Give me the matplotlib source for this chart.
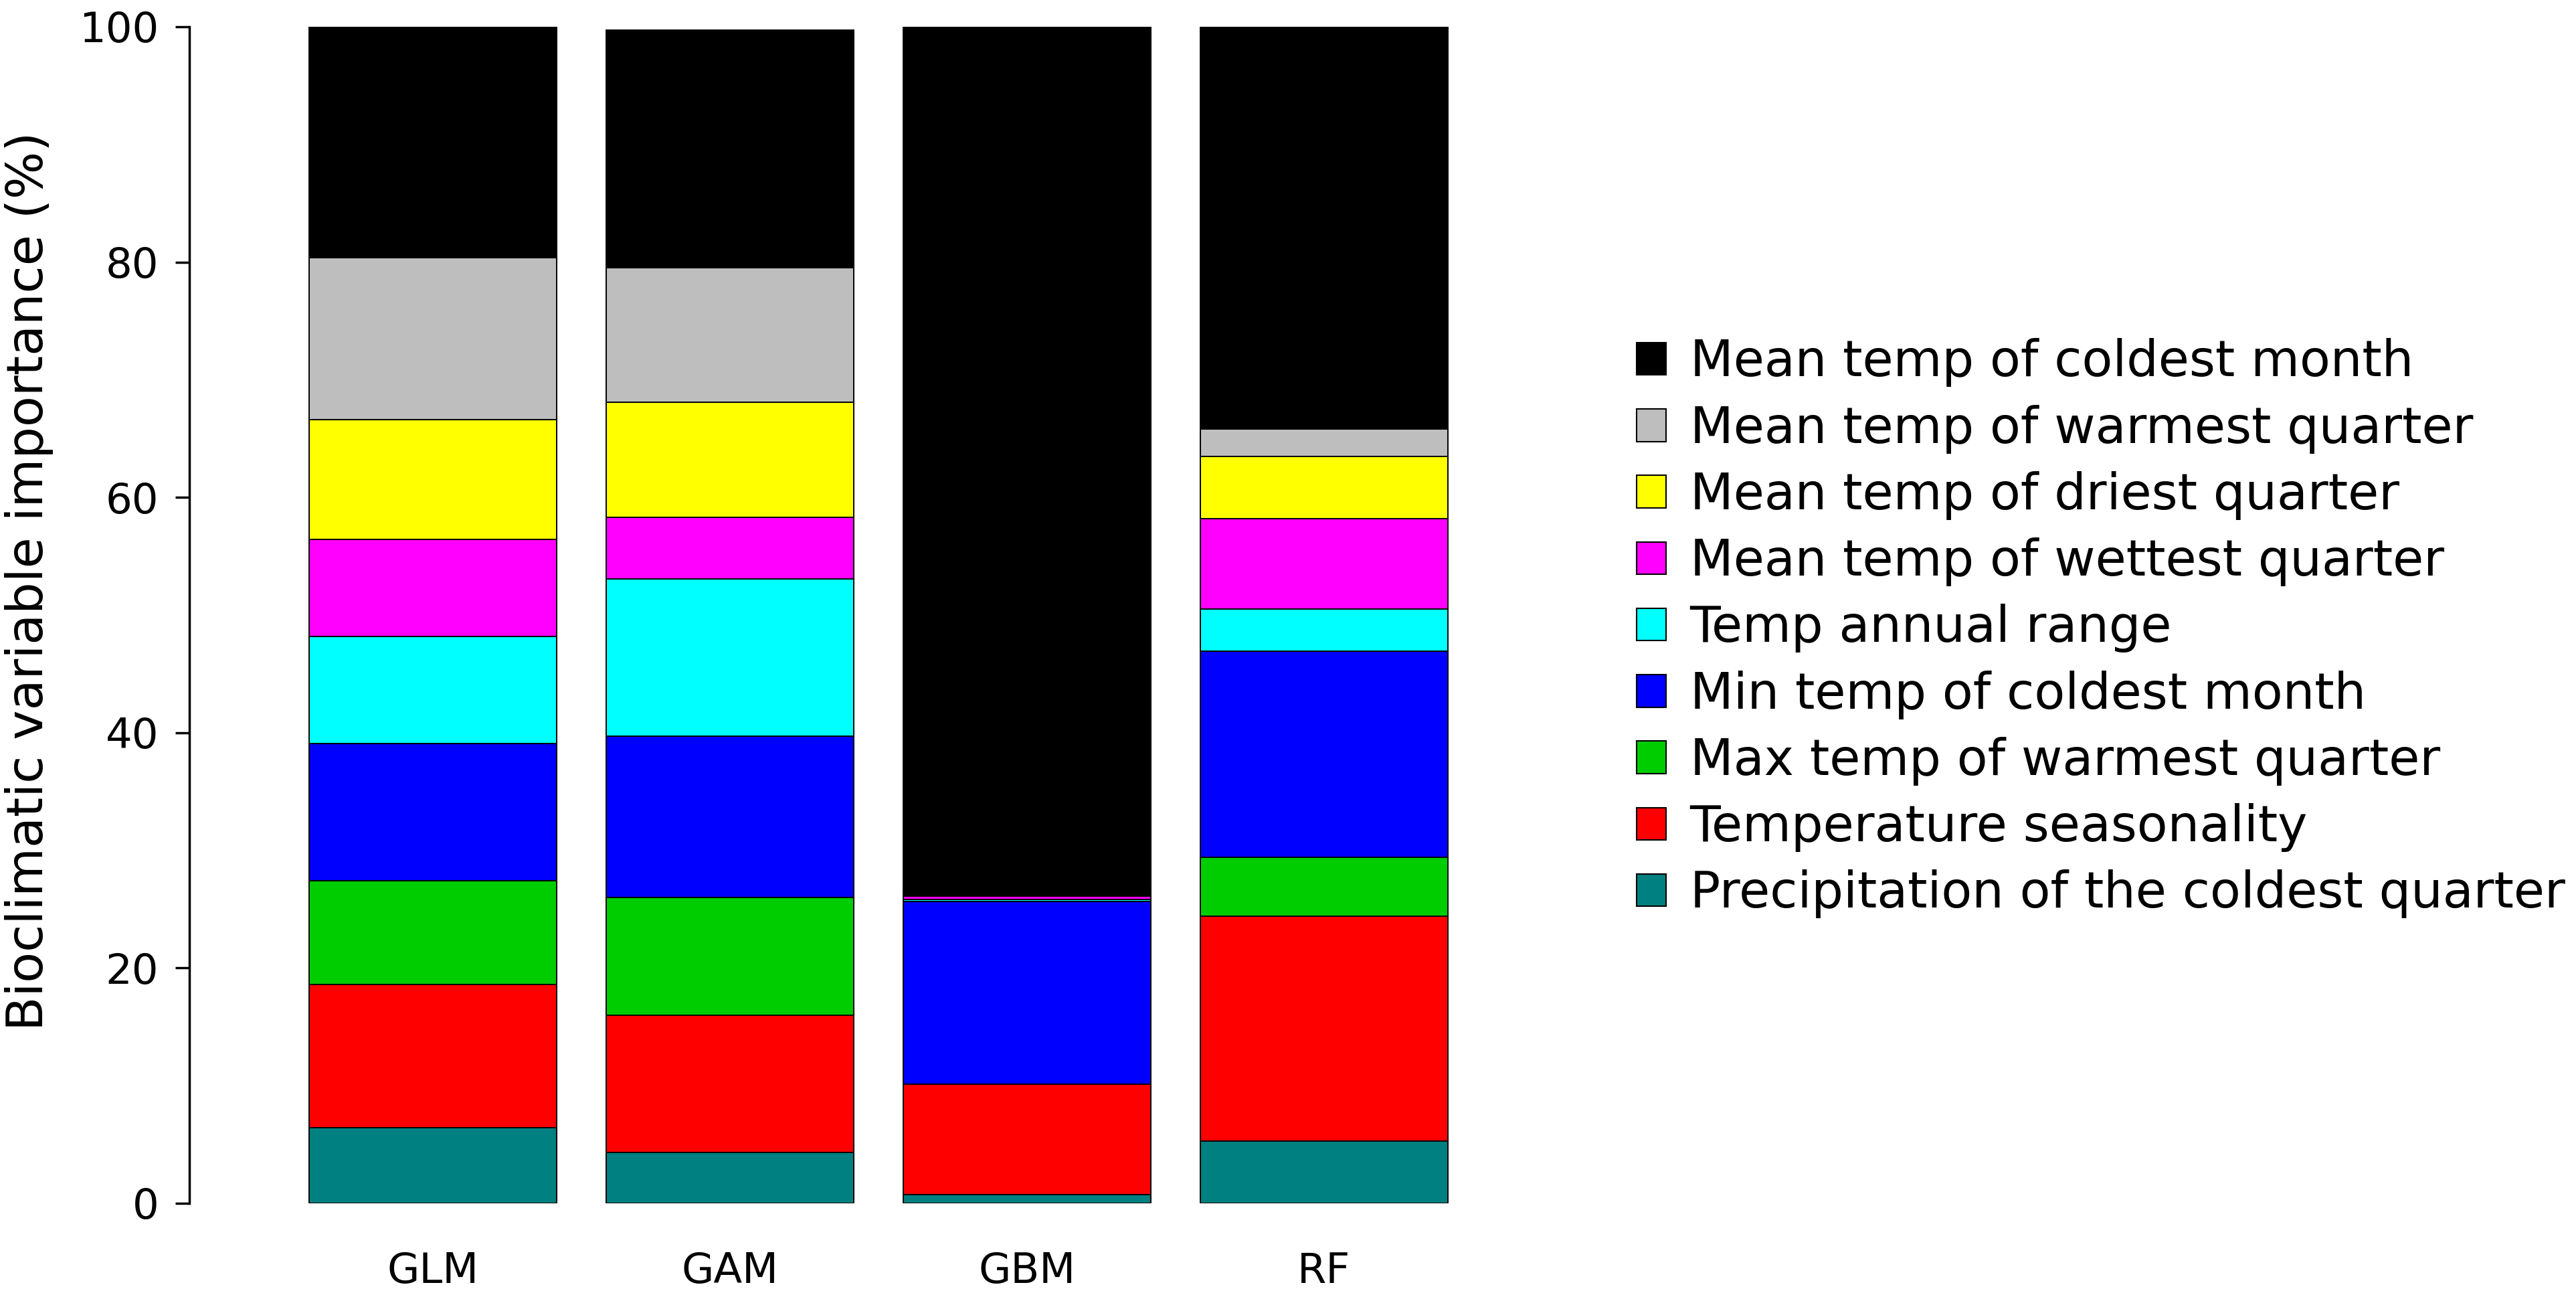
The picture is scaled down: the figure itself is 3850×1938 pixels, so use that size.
import numpy as np
import matplotlib
matplotlib.use("Agg")
import matplotlib.pyplot as plt
from matplotlib.patches import Patch

plt.rcParams['font.family'] = ['DejaVu Sans']

# modeles (axe x)
models = ["GLM", "GAM", "GBM", "RF"]

# importance de chaque variable (%), ordre d'empilement du bas vers le haut
precip_coldest_q = [6.4, 4.3, 0.75, 5.3]
temp_seasonality = [12.2, 11.7, 9.4, 19.1]
max_temp_warmest_q = [8.8, 10.0, 0.0, 5.0]
min_temp_coldest_m = [11.7, 13.7, 15.5, 17.5]
temp_annual_range = [9.1, 13.4, 0.2, 3.6]
mean_temp_wettest_q = [8.2, 5.2, 0.25, 7.7]
mean_temp_driest_q = [10.2, 9.8, 0.1, 5.3]
mean_temp_warmest_q = [13.8, 11.4, 0.05, 2.3]
mean_temp_coldest_m = [19.6, 20.2, 73.75, 34.2]

labels = ["Precipitation of the coldest quarter", "Temperature seasonality",
          "Max temp of warmest quarter", "Min temp of coldest month",
          "Temp annual range", "Mean temp of wettest quarter",
          "Mean temp of driest quarter", "Mean temp of warmest quarter",
          "Mean temp of coldest month"]
colors = ["#008080", "#ff0000", "#00cd00", "#0000ff", "#00ffff",
          "#ff00ff", "#ffff00", "#bebebe", "#000000"]

series = [precip_coldest_q, temp_seasonality, max_temp_warmest_q,
          min_temp_coldest_m, temp_annual_range, mean_temp_wettest_q,
          mean_temp_driest_q, mean_temp_warmest_q, mean_temp_coldest_m]

W, H = 3850, 1938
fig = plt.figure(figsize=(W / 100, H / 100), dpi=100)
ax = fig.add_axes([283 / W, 140 / H, (2245 - 283) / W, 1758 / H])

x = np.arange(len(models))
bottom = np.zeros(len(models))
for vals, col in zip(series, colors):
    ax.bar(x, vals, width=0.833, bottom=bottom, color=col,
           edgecolor="black", linewidth=1.4)
    bottom += np.array(vals)

ax.set_xlim(-0.82, 3.6)
ax.set_ylim(0, 100)
for s in ["top", "right", "bottom"]:
    ax.spines[s].set_visible(False)
ax.spines["left"].set_linewidth(2.5)
ax.spines["left"].set_bounds(0, 100)

ax.set_yticks([0, 20, 40, 60, 80, 100])
ax.tick_params(axis="y", length=15, width=2.5, pad=18, labelsize=45)
ax.set_xticks(x)
ax.set_xticklabels(models)
ax.tick_params(axis="x", length=0, pad=52, labelsize=45)

fig.text(0.0114, 0.552, "Bioclimatic variable importance (%)", rotation=90,
         ha="center", va="center", fontsize=54)

handles = [Patch(facecolor=c, edgecolor="black", linewidth=1.5, label=l)
           for c, l in zip(colors, labels)][::-1]
fig.legend(handles=handles, loc="center left", bbox_to_anchor=(2446 / W, 0.5155),
           frameon=False, fontsize=54, handlelength=0.58, handleheight=0.62,
           handletextpad=0.48, labelspacing=0.35, borderpad=0, borderaxespad=0)

fig.savefig("out.png", dpi=100)
